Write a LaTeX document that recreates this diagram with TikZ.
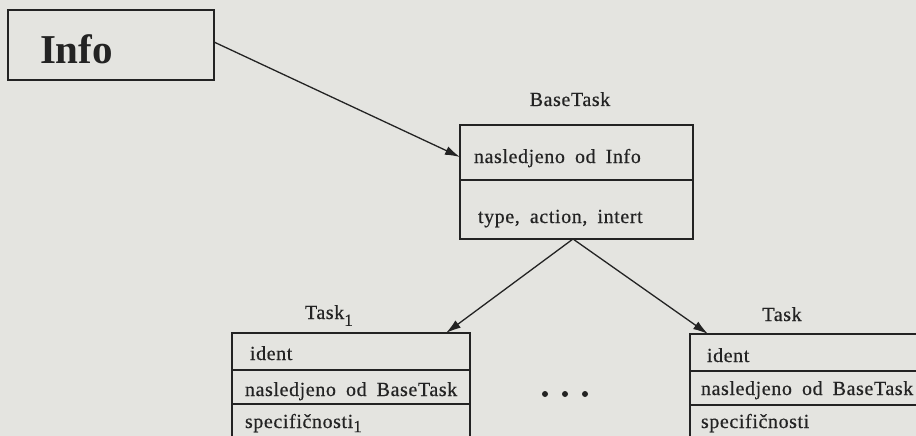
\documentclass[tikz,border=0pt]{standalone}
\usepackage{fontspec}
\usetikzlibrary{arrows.meta,calc}

% Typewriter-like spaced serif for the class diagram labels
\newfontfamily\rowfont{Liberation Serif}[LetterSpace=3,WordSpace=1.8,FakeBold=0.5]
\newfontfamily\titlefont{Liberation Serif}

\definecolor{paper}{RGB}{228,228,224}
\definecolor{ink}{RGB}{35,35,35}

\tikzset{
  rowbox/.style={draw=ink, line width=1.2pt, rectangle, inner sep=0pt, outer sep=0pt,
                 anchor=north west, minimum width=238pt},
  txt/.style={inner sep=0pt, outer sep=0pt, anchor=base west, text=ink,
              font=\rowfont\fontsize{20}{22}\selectfont},
  caption/.style={txt, anchor=base},
  arrow/.style={draw=ink, line width=1.3pt, -{Latex[length=15pt,width=9pt]}},
}

\newcommand{\subone}[1][-0.75ex]{\raisebox{#1}{\fontsize{17}{17}\selectfont 1}}

\begin{document}
\begin{tikzpicture}[x=1pt,y=-1pt]
  \fill[paper] (0,0) rectangle (916,436);
  \clip (0,0) rectangle (916,436);

  % Info
  \node[rowbox, minimum width=206pt, minimum height=70pt] (info) at (8,10) {};
  \node[txt, font=\titlefont\bfseries\fontsize{41}{44}\selectfont] (infotxt) at (40,64) {Info};

  % BaseTask
  \node[caption] (basecap) at (570,106) {BaseTask};
  \node[rowbox, minimum width=233pt, minimum height=55pt] (b1) at (460,125) {};
  \node[rowbox, minimum width=233pt, minimum height=59pt] (b2) at (460,180) {};
  \node[txt] (b1txt) at (474,163) {nasledjeno od Info};
  \node[txt] (b2txt) at (478,223) {type, action, intert};

  % Task_1
  \node[txt] (t1cap) at (305,319) {Task\subone};
  \node[rowbox, minimum height=37pt] (t1a) at (232,333) {};
  \node[rowbox, minimum height=34pt] (t1b) at (232,370) {};
  \node[rowbox, minimum height=50pt] (t1c) at (232,404) {};
  \node[txt] (t1atxt) at (250,360) {ident};
  \node[txt] (t1btxt) at (245,396) {nasledjeno od BaseTask};
  \node[txt] (t1ctxt) at (245,428) {specifičnosti\subone[-0.45ex]};

  % Task
  \node[caption] (tncap) at (782,321) {Task};
  \node[rowbox, minimum height=37pt] (tna) at (690,334) {};
  \node[rowbox, minimum height=34pt] (tnb) at (690,371) {};
  \node[rowbox, minimum height=50pt] (tnc) at (690,405) {};
  \node[txt] (tnatxt) at (707,362) {ident};
  \node[txt] (tnbtxt) at (701,395) {nasledjeno od BaseTask};
  \node[txt] (tnctxt) at (701,428) {specifičnosti};

  % ellipsis between the task classes
  \foreach \x in {545,565,585} \fill[ink] (\x,394) circle (3pt);

  % inheritance arrows
  \draw[arrow] ($(info.east)+(0,-3)$) -- ($(b1.west)+(0,4.5)$);
  \draw[arrow] ($(b2.south)+(-3.5,0)$) -- ($(t1a.north east)+(-24,0)$);
  \draw[arrow] ($(b2.south)+(-3.5,0)$) -- ($(tna.north west)+(18,0)$);
\end{tikzpicture}
\end{document}
